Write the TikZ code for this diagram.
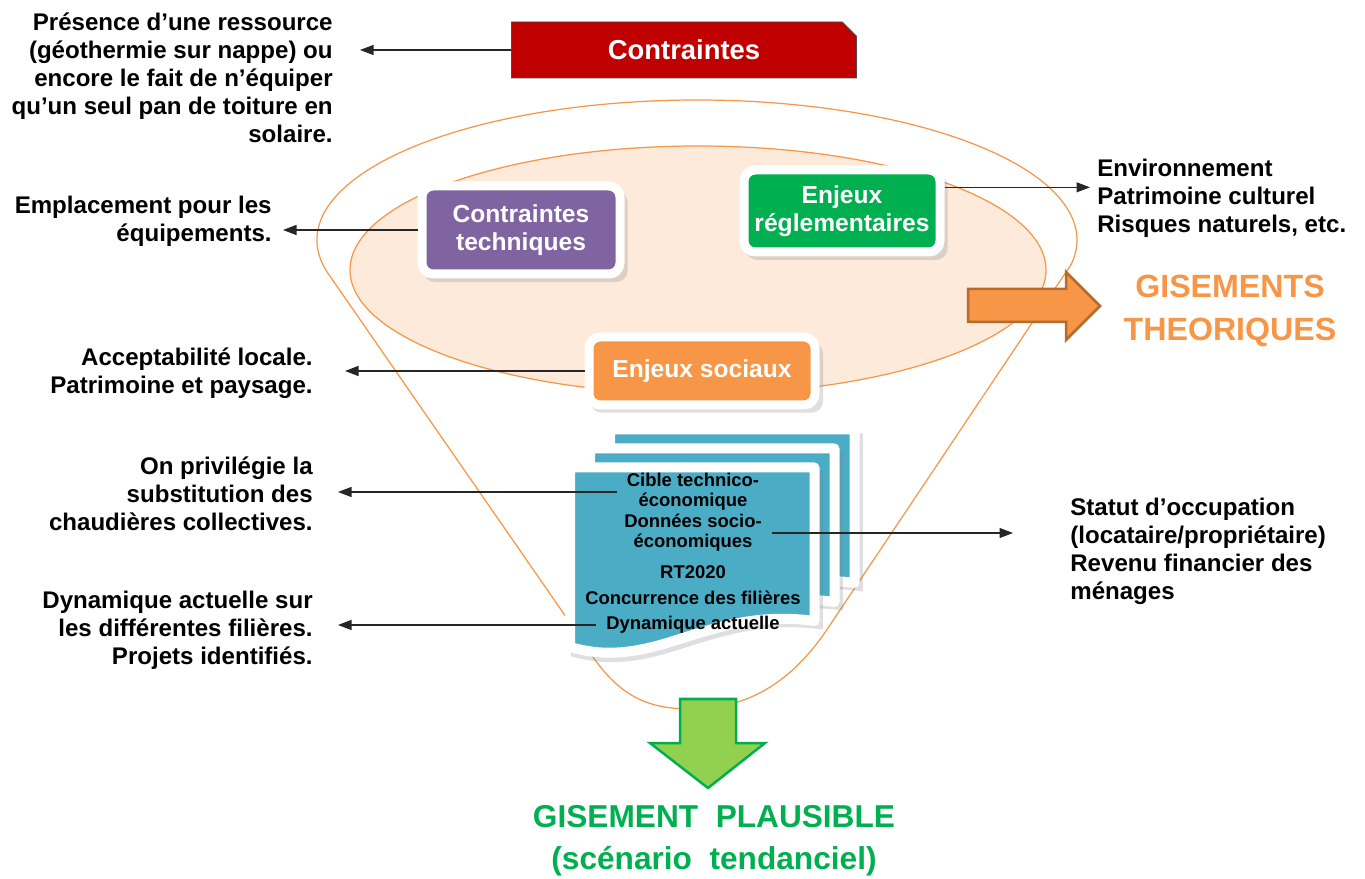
\documentclass[tikz,border=0pt]{standalone}
\usepackage{fontspec}
\setmainfont{Liberation Sans}
\usetikzlibrary{arrows.meta,shapes.misc,shadows}

\definecolor{rougecontr}{HTML}{C00000}
\definecolor{violettech}{HTML}{8064A2}
\definecolor{vertregl}{HTML}{00B050}
\definecolor{orangesoc}{HTML}{F79646}
\definecolor{bleufiche}{HTML}{4BACC6}
\definecolor{vertclair}{HTML}{92D050}
\definecolor{peche}{HTML}{FDEADA}
\definecolor{brunfleche}{HTML}{B86A2C}

\tikzset{
  conn/.style={draw=black!85, line width=0.6pt, -{Triangle[length=2.7mm,width=2mm]}},
  note/.style={inner sep=0pt, font=\fontsize{13.7}{15.9}\selectfont\bfseries},
  ombre/.style={drop shadow={opacity=0.25, shadow xshift=0.9mm, shadow yshift=-1.3mm, shadow scale=1.03}},
  enjeu/.style={draw=white, line width=1.8mm, rounded corners=2.2mm, text=white, align=center,
    inner sep=0pt, font=\fontsize{14}{16}\selectfont\bfseries, ombre},
  fichebox/.style={fill=bleufiche, draw=white, line width=2mm, line join=round, ombre},
  fiche/.style={inner xsep=2mm, inner ysep=0pt, align=center, font=\fontsize{10.5}{11.4}\selectfont\bfseries},
  funnel/.style={draw=orangesoc, line width=0.7pt},
}

\begin{document}
\begin{tikzpicture}[x=0.2mm, y=-0.2mm]
\useasboundingbox (0,0) rectangle (1365,879);

% entonnoir
\draw[funnel] (697,240) ++(167:380 and 140) arc[start angle=167, end angle=370, x radius=380, y radius=140]
  -- (828,628) .. controls (790,685) and (745,709) .. (690,709)
  .. controls (640,709) and (612,690) .. (582,640) -- cycle;
\draw[funnel, fill=peche] (698,270) ellipse [x radius=348, y radius=124];

% contraintes
\node[draw=black!70, fill=rougecontr, chamfered rectangle, chamfered rectangle corners={north east},
  chamfered rectangle xsep=1.6mm, minimum width=69mm, minimum height=11.2mm, text=white,
  font=\fontsize{15.6}{18}\selectfont\bfseries] (contr) at (684,50) {Contraintes};
\node[enjeu, fill=violettech, minimum width=39.6mm, minimum height=17.6mm] (tech) at (521,230) {Contraintes\\techniques};
\node[enjeu, fill=vertregl, minimum width=39.2mm, minimum height=16.4mm] (regl) at (842,211) {Enjeux\\réglementaires};
\node[enjeu, fill=orangesoc, minimum width=45.2mm, minimum height=13.6mm] (social) at (702,371) {Enjeux sociaux};

% fiches
\foreach \dx/\dy in {40/-38,20/-19,0/0}
  \draw[fichebox, shift={(\dx,\dy)}] (570,467.5) -- (814.5,467.5) -- (814.5,621)
    .. controls (750,612) and (705,632) .. (660,645) .. controls (620,656) and (595,654) .. (570,647) -- cycle;
\node[fiche] (cible) at (693,492) {Cible technico-\\économique};
\node[fiche] (donnees) at (693,533) {Données socio-\\économiques};
\node[fiche] (rt) at (693,572) {RT2020};
\node[fiche] (concur) at (693,598) {Concurrence des filières};
\node[fiche] (dyn) at (693,625) {Dynamique actuelle};

% fleches des gisements
\draw[fill=orangesoc, draw=brunfleche, line width=0.5mm] (968,289) -- (1066,289) -- (1066,272) -- (1100,306)
  -- (1066,340) -- (1066,322) -- (968,322) -- cycle;
\draw[fill=vertclair, draw=vertregl, line width=0.5mm] (680,699) -- (736,699) -- (736,743) -- (765,743)
  -- (708,788) -- (650,743) -- (680,743) -- cycle;

% textes
\node[note, anchor=east, align=right] (presence) at (333,78) {Présence d’une ressource\\(géothermie sur nappe) ou\\encore le fait de n’équiper\\qu’un seul pan de toiture en\\solaire.};
\node[note, anchor=east, align=right] (emplac) at (272,221) {Emplacement pour les\\équipements.};
\node[note, anchor=east, align=right] (accept) at (313,373) {Acceptabilité locale.\\Patrimoine et paysage.};
\node[note, anchor=east, align=right] (privil) at (313,494) {On privilégie la\\substitution des\\chaudières collectives.};
\node[note, anchor=east, align=right] (dynam) at (313,630) {Dynamique actuelle sur\\les différentes filières.\\Projets identifiés.};
\node[note, anchor=west, align=left] (envir) at (1097,198) {Environnement\\Patrimoine culturel\\Risques naturels, etc.};
\node[note, anchor=west, align=left] (statut) at (1070,551) {Statut d’occupation\\(locataire/propriétaire)\\Revenu financier des\\ménages};
\node[text=orangesoc, align=center, font=\fontsize{18.3}{24.4}\selectfont\bfseries] (theo) at (1230,311) {GISEMENTS\\THEORIQUES};
\node[text=vertregl, align=center, font=\fontsize{18}{24}\selectfont\bfseries] (plaus) at (714,841) {GISEMENT\ \ PLAUSIBLE\\(scénario\ \ tendanciel)};

% liaisons
\draw[conn, shorten >=5.4mm] (contr.west) -- (contr.west -| presence.east);
\draw[conn, shorten >=2.2mm] (tech.west) -- (tech.west -| emplac.east);
\draw[conn, shorten >=6.4mm] (social.west) -- (social.west -| accept.east);
\draw[conn, shorten >=5mm] (cible.west) -- (cible.west -| privil.east);
\draw[conn, shorten >=5mm] (dyn.west) -- (dyn.west -| dynam.east);
\draw[conn, shorten >=1.4mm] (regl.13) -- (regl.13 -| envir.west);
\draw[conn, shorten >=11.4mm] (donnees.east) -- (donnees.east -| statut.west);
\end{tikzpicture}
\end{document}
